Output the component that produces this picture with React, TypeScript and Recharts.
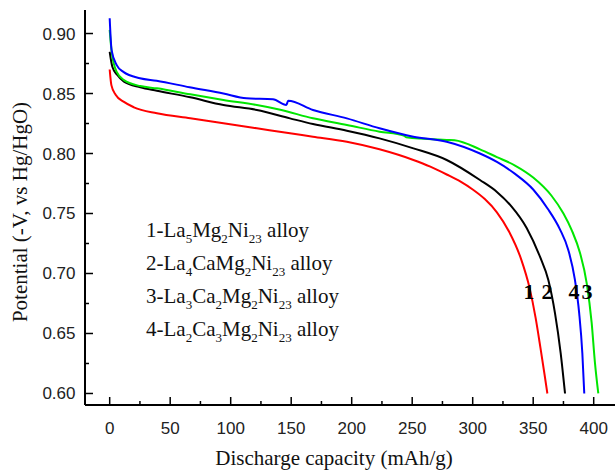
import React from "react";
import { LineChart, Line, XAxis, YAxis, ReferenceDot } from "recharts";

// 1-La5Mg2Ni23 (red)
const capacity1 = [0, 1.4, 4.9, 11.8, 20, 39, 66.6, 94, 121.6, 149, 168, 196, 223, 251, 265, 278.5, 290, 300, 310, 320, 330, 340, 347, 352, 356, 359.5, 361.7];
const potential1 = [0.87, 0.857, 0.849, 0.843, 0.8385, 0.8335, 0.8293, 0.8252, 0.821, 0.8168, 0.814, 0.8098, 0.8035, 0.7946, 0.789, 0.7825, 0.7765, 0.77, 0.762, 0.751, 0.735, 0.712, 0.688, 0.663, 0.638, 0.615, 0.6];

// 2-La4CaMg2Ni23 (black)
const capacity2 = [0, 2.2, 6.3, 11.8, 25.3, 39, 66.6, 94, 121.6, 149, 168, 196, 223, 251, 278.5, 306, 320, 332, 344.6, 355.6, 362.5, 368, 372.7, 376.3];
const potential2 = [0.8848, 0.8723, 0.8654, 0.8598, 0.8552, 0.8523, 0.8468, 0.8404, 0.8363, 0.8293, 0.8246, 0.819, 0.8126, 0.8043, 0.7946, 0.7779, 0.768, 0.756, 0.738, 0.714, 0.6946, 0.667, 0.6337, 0.6];

// 3-La3Ca2Mg2Ni23 (green)
const capacity3 = [0, 1.6, 5.8, 11.8, 25.3, 39, 66.6, 94, 121.6, 141, 168, 196, 223, 243, 245, 278.5, 285, 306, 320, 335, 350, 365, 375, 381.8, 388.7, 394.2, 398.3, 401, 403.8];
const potential3 = [0.903, 0.885, 0.868, 0.8612, 0.8562, 0.8543, 0.8493, 0.8446, 0.8404, 0.8365, 0.8293, 0.8238, 0.8182, 0.815, 0.8135, 0.8113, 0.811, 0.8035, 0.797, 0.79, 0.78, 0.765, 0.75, 0.7362, 0.717, 0.692, 0.659, 0.626, 0.6];

// 4-La2Ca3Mg2Ni23 (blue)
const capacity4 = [0, 1.6, 5.8, 11.3, 25, 38.8, 66, 94, 113, 135, 146, 147.5, 168, 196, 223, 251, 278.5, 306, 320, 335, 350, 362, 372, 379, 384.5, 388, 390.6, 392.2];
const potential4 = [0.9127, 0.886, 0.8737, 0.868, 0.8627, 0.8607, 0.8552, 0.85, 0.846, 0.8452, 0.8404, 0.844, 0.8363, 0.8293, 0.821, 0.814, 0.8098, 0.8, 0.793, 0.783, 0.77, 0.754, 0.737, 0.7196, 0.6946, 0.667, 0.6337, 0.6];

const xTicks = [0, 25, 50, 75, 100, 125, 150, 175, 200, 225, 250, 275, 300, 325, 350, 375, 400];
const yTicks = [0.6, 0.625, 0.65, 0.675, 0.7, 0.725, 0.75, 0.775, 0.8, 0.825, 0.85, 0.875, 0.9];

const curveLabels = ["1", "2", "4", "3"];
const curveLabelX = [346.5, 361.4, 383.7, 394.5];
const curveLabelY = 0.6846;

const toPoints = (xs: number[], ys: number[]) => xs.map((x, i) => ({ x, y: ys[i] }));

const series = [
  { name: "1", data: toPoints(capacity1, potential1), color: "#ff0000" },
  { name: "2", data: toPoints(capacity2, potential2), color: "#000000" },
  { name: "3", data: toPoints(capacity3, potential3), color: "#00e600" },
  { name: "4", data: toPoints(capacity4, potential4), color: "#0000ff" },
];

const tickFont = { fontFamily: "'Liberation Sans', Arial, sans-serif", fontSize: 17, fill: "#222" };
const serif = "'Liberation Serif', 'Times New Roman', serif";

const XTick = (props: any) => {
  const { x, y, payload } = props;
  const major = payload.value % 50 === 0;
  return (
    <g>
      <line x1={x} x2={x} y1={y} y2={y - (major ? 8 : 4)} stroke="#000" strokeWidth={1.5} />
      {major && (
        <text x={x} y={y + 29} textAnchor="middle" {...tickFont}>
          {payload.value}
        </text>
      )}
    </g>
  );
};

const YTick = (props: any) => {
  const { x, y, payload } = props;
  const major = Math.round(payload.value * 1000) % 50 === 0;
  return (
    <g>
      <line x1={x} x2={x + (major ? 8 : 4)} y1={y} y2={y} stroke="#000" strokeWidth={1.5} />
      {major && (
        <text x={x - 9.5} y={y + 6} textAnchor="end" {...tickFont}>
          {payload.value.toFixed(2)}
        </text>
      )}
    </g>
  );
};

const subStyle: React.CSSProperties = { fontSize: 13, verticalAlign: -6, lineHeight: 0 };

const legendLines = [
  ["1-La", "5", "Mg", "2", "Ni", "23", " alloy"],
  ["2-La", "4", "CaMg", "2", "Ni", "23", " alloy"],
  ["3-La", "3", "Ca", "2", "Mg", "2", "Ni", "23", " alloy"],
  ["4-La", "2", "Ca", "3", "Mg", "2", "Ni", "23", " alloy"],
];

export default function App() {
  return (
    <div style={{ position: "relative", width: 615, height: 470, background: "#fff" }}>
      <style>{"body{margin:0}"}</style>
      <LineChart width={615} height={470} margin={{ top: 10, right: 0, bottom: 0, left: 0 }}>
        <XAxis
          xAxisId="b"
          type="number"
          dataKey="x"
          domain={[-20.4, 417.6]}
          allowDataOverflow
          ticks={xTicks}
          interval={0}
          height={65}
          axisLine={{ stroke: "#000", strokeWidth: 2 }}
          tickLine={false}
          tickSize={0}
          tickMargin={0}
          tick={<XTick />}
        />
        <XAxis
          xAxisId="t"
          orientation="top"
          type="number"
          domain={[-20.4, 417.6]}
          height={0}
          tick={false}
          tickLine={false}
          axisLine={{ stroke: "#000", strokeWidth: 2 }}
        />
        <YAxis
          yAxisId="l"
          type="number"
          domain={[0.5904, 0.9196]}
          allowDataOverflow
          ticks={yTicks}
          interval={0}
          width={85}
          axisLine={{ stroke: "#000", strokeWidth: 2 }}
          tickLine={false}
          tickSize={0}
          tickMargin={0}
          tick={<YTick />}
        />
        {series.map((s) => (
          <Line
            key={s.name}
            xAxisId="b"
            yAxisId="l"
            data={s.data}
            dataKey="y"
            type="monotone"
            stroke={s.color}
            strokeWidth={2}
            dot={false}
            isAnimationActive={false}
          />
        ))}
        {curveLabels.map((lab, i) => (
          <ReferenceDot
            key={lab}
            xAxisId="b"
            yAxisId="l"
            x={curveLabelX[i]}
            y={curveLabelY}
            r={0}
            shape={(p: any) => (
              <text x={p.cx} y={p.cy + 7.5} textAnchor="middle" fontFamily={serif} fontWeight="bold" fontSize={22} fill="#000">
                {lab}
              </text>
            )}
          />
        ))}
      </LineChart>

      <div style={{ position: "absolute", left: 146, top: 213.5, fontFamily: serif, fontSize: 21, color: "#111" }}>
        {legendLines.map((parts, i) => (
          <div key={i} style={{ height: 33.2, lineHeight: "33px", whiteSpace: "nowrap" }}>
            {parts.map((p, j) => (j % 2 === 1 && j < parts.length - 1 ? <span key={j} style={subStyle}>{p}</span> : <span key={j}>{p}</span>))}
          </div>
        ))}
      </div>

      <div
        style={{
          position: "absolute",
          left: 334 - 200,
          top: 446,
          width: 400,
          textAlign: "center",
          lineHeight: "24px",
          fontFamily: serif,
          fontSize: 21,
          color: "#111",
        }}
      >
        Discharge capacity (mAh/g)
      </div>
      <div
        style={{
          position: "absolute",
          left: 20 - 150,
          top: 212 - 12,
          width: 300,
          textAlign: "center",
          lineHeight: "24px",
          fontFamily: serif,
          fontSize: 21,
          color: "#111",
          transform: "rotate(-90deg)",
        }}
      >
        Potential (-V, vs Hg/HgO)
      </div>
    </div>
  );
}
